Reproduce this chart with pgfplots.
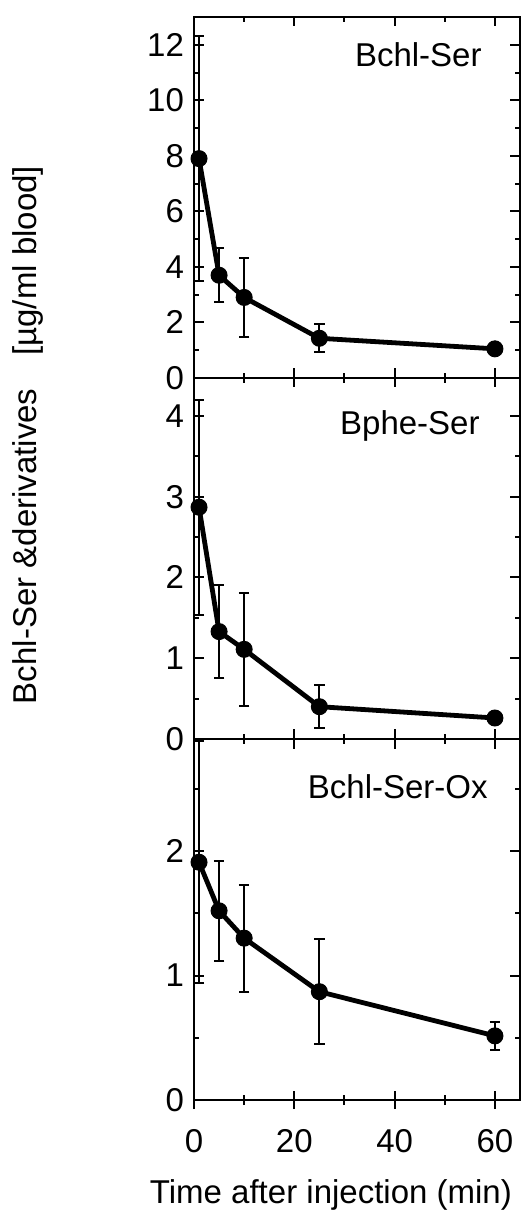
\documentclass[border=0pt]{standalone}
\usepackage{fontspec}
\setmainfont{Liberation Sans}
\usepackage{pgfplots}
\pgfplotsset{compat=1.18}

\newcommand{\lblfont}{\fontsize{16.5}{19.5}\selectfont}

\pgfplotsset{
  panel/.style={
    width=163pt, height=180.5pt, scale only axis, anchor=south west,
    xmin=0, xmax=65, xtick={0,20,40,60}, minor xtick={10,30,50},
    tick align=inside, major tick length=4.75pt, minor tick length=2.5pt,
    axis line style={line width=1pt},
    every tick/.style={line width=1pt, black},
    every minor tick/.style={line width=1pt, black},
    tick label style={font=\lblfont},
    /pgf/number format/assume math mode=true,
    yticklabel style={xshift=-1.5pt},
    xticklabel style={yshift=-11pt},
  },
  series/.style={black, line width=2.4pt, mark=*, mark size=4pt,
    mark options={solid, line width=0.5pt, fill=black},
    error bars/y dir=both, error bars/y explicit,
    error bars/error mark=-,
    error bars/error bar style={line width=1pt, black},
    error bars/error mark options={rotate=90, black, mark size=2.6pt, line width=1pt}},
}

\pgfplotstableread{
x  y     e
1  7.9   4.4
5  3.7   0.97
10 2.9   1.43
25 1.43  0.5
60 1.05  0
}\bchlser

\pgfplotstableread{
x  y     e
1  2.87  1.33
5  1.33  0.58
10 1.11  0.70
25 0.40  0.27
60 0.26  0
}\bpheser

\pgfplotstableread{
x  y     e
1  1.91  0.97
5  1.52  0.40
10 1.30  0.43
25 0.87  0.42
60 0.515 0.115
}\bchlserox

\begin{document}
\begin{tikzpicture}
\path[use as bounding box] (-97pt,-57pt) rectangle (163.5pt,550pt);

% bottom panel: outward half of the x ticks
\begin{axis}[panel, at={(0,0)}, ymin=0, ymax=2.9, ytick=\empty,
  xtick align=outside, xtick pos=left, xticklabels={},
  major tick length=4.5pt]
\end{axis}

% bottom panel
\begin{axis}[panel, at={(0,0)}, ymin=0, ymax=2.9,
  ytick={0,1,2}, minor ytick={0.5,1.5,2.5},
  xlabel={Time after injection (min)},
  xlabel style={font=\lblfont, at={(axis description cs:0.42,0)}, anchor=center, yshift=-47.5pt}]
  \addplot[series] table[x=x, y=y, y error=e] {\bchlserox};
  \node[anchor=base east, inner sep=0, font=\lblfont, xshift=-16pt, yshift=-29.5pt]
    at (rel axis cs:1,1) {Bchl-Ser-Ox};
\end{axis}

% middle panel
\begin{axis}[panel, at={(0,180.5pt)}, ymin=0, ymax=4.47,
  ytick={0,1,2,3,4}, minor ytick={0.5,1.5,2.5,3.5}, xticklabels={}]
  \addplot[series] table[x=x, y=y, y error=e] {\bpheser};
  \node[anchor=base east, inner sep=0, font=\lblfont, xshift=-20pt, yshift=-28.25pt]
    at (rel axis cs:1,1) {Bphe-Ser};
\end{axis}

% top panel
\begin{axis}[panel, at={(0,361pt)}, ymin=0, ymax=13,
  ytick={0,2,4,6,8,10,12}, minor ytick={1,3,5,7,9,11}, xticklabels={}]
  \addplot[series] table[x=x, y=y, y error=e] {\bchlser};
  \node[anchor=base east, inner sep=0, font=\lblfont, xshift=-19pt, yshift=-24.75pt]
    at (rel axis cs:1,1) {Bchl-Ser};
\end{axis}

\node[rotate=90, font=\lblfont, inner sep=0] at (-83pt,332.5pt)
  {Bchl-Ser \&derivatives\hspace{1em}[µg/ml blood]};
\end{tikzpicture}
\end{document}
